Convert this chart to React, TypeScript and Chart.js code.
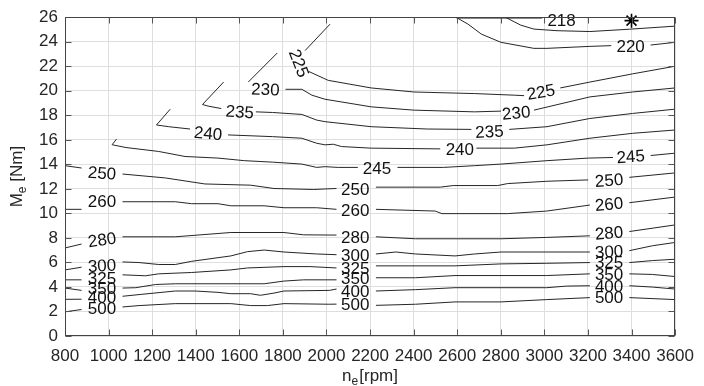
import React, { useEffect, useRef } from 'react';
import { Chart, registerables } from 'chart.js';

Chart.register(...registerables);

// Axis ticks
const xTickValues = [800, 1000, 1200, 1400, 1600, 1800, 2000, 2200, 2400, 2600, 2800, 3000, 3200, 3400, 3600];
const yTickValues = [0, 2, 4, 6, 8, 10, 12, 14, 16, 18, 20, 22, 24, 26];

// Contour lines: segments of [n_e (rpm), M_e (Nm)], gaps where labels sit
const c500 = [
  [[800, 1.97], [876, 2.16]],
  [[1064, 2.37], [1140, 2.48], [1306, 2.64], [1561, 2.64], [1652, 2.48], [1729, 2.48], [1805, 2.64], [2014, 2.59], [2046, 2.6]],
  [[2227, 2.5], [2409, 2.59], [2590, 2.78], [2801, 2.78], [3011, 2.97], [3209, 3.13]],
  [[3390, 3.13], [3600, 2.97]],
];
const c400 = [
  [[800, 2.99], [876, 3.0]],
  [[1064, 3.24], [1153, 3.4], [1306, 3.67], [1397, 3.67], [1502, 3.56], [1561, 3.45], [1652, 3.45], [1697, 3.32], [1759, 3.5], [1805, 3.67], [2014, 3.72], [2046, 3.83]],
  [[2227, 3.67], [2409, 3.78], [2590, 3.94], [3011, 3.94], [3102, 4.07], [3209, 4.1]],
  [[3390, 4.1], [3496, 3.99], [3600, 3.83]],
];
const c350 = [
  [[800, 3.91], [876, 3.72]],
  [[1064, 3.91], [1125, 3.94], [1215, 4.2], [1306, 4.26], [1714, 4.26], [1805, 4.48], [1895, 4.58], [2046, 4.58]],
  [[2227, 4.75], [2409, 4.75], [2590, 4.93], [3011, 4.93], [3209, 5.07]],
  [[3390, 5.07], [3496, 5.02], [3600, 4.85]],
];
const c325 = [
  [[800, 4.58], [876, 4.58]],
  [[1064, 4.99], [1170, 4.91], [1230, 5.07], [1381, 5.18], [1561, 5.39], [1638, 5.55], [1805, 5.66], [1924, 5.66], [2046, 5.55]],
  [[2227, 5.72], [2590, 5.72], [2801, 5.88], [3011, 5.93], [3209, 5.99]],
  [[3390, 5.99], [3496, 6.15], [3600, 6.26]],
];
const c300 = [
  [[800, 5.39], [876, 5.61]],
  [[1064, 6.04], [1140, 5.99], [1230, 5.83], [1306, 5.83], [1381, 6.09], [1561, 6.53], [1638, 6.88], [1714, 7.01], [1805, 6.85], [1955, 6.69], [2046, 6.63]],
  [[2227, 6.69], [2318, 6.85], [2409, 6.69], [2590, 6.53], [2680, 6.69], [2801, 6.85], [3209, 6.85]],
  [[3390, 6.96], [3496, 7.36], [3600, 7.63]],
];
const c280 = [
  [[800, 7.18], [876, 7.5]],
  [[1064, 8.09], [1306, 8.09], [1561, 8.44], [1805, 8.44], [1895, 8.25], [2046, 8.23]],
  [[2227, 8.09], [2409, 7.93], [2801, 7.93], [3011, 8.04], [3209, 8.17]],
  [[3390, 8.52], [3600, 9.06]],
];
const c260 = [
  [[800, 10.33], [876, 10.33]],
  [[1064, 10.95], [1306, 10.95], [1381, 10.79], [1502, 10.79], [1561, 10.62], [1714, 10.62], [1805, 10.46], [1955, 10.46], [2046, 10.33]],
  [[2227, 10.33], [2499, 10.19], [2530, 9.98], [2831, 9.98], [3011, 10.19], [3209, 10.68]],
  [[3390, 10.87], [3600, 11.33]],
];
const c250 = [
  [[800, 13.89], [876, 13.7]],
  [[1064, 13.21], [1261, 12.89], [1442, 12.4], [1652, 12.3], [1759, 12.03], [1940, 11.95], [2046, 12.03]],
  [[2227, 12.14], [2522, 12.14], [2582, 12.27], [2786, 12.27], [2831, 12.43], [3012, 12.62], [3201, 12.73]],
  [[3390, 12.94], [3600, 13.3]],
];
const c245 = [
  [[1037, 16.07], [1016, 15.6], [1080, 15.37], [1230, 15.05], [1351, 14.64], [1502, 14.51], [1623, 14.3], [1752, 14.18], [1887, 14.02], [1955, 13.75], [1993, 13.81], [2054, 13.75], [2144, 13.75]],
  [[2326, 13.75], [2537, 13.75], [2680, 13.89], [2801, 14.02], [3012, 14.3], [3201, 14.51], [3315, 14.56]],
  [[3488, 14.72], [3600, 14.91]],
];
const c240 = [
  [[1283, 18.5], [1220, 17.21], [1276, 17.07], [1374, 16.88]],
  [[1548, 16.4], [1752, 16.26], [1887, 16.13], [1955, 15.72], [1993, 15.59], [2031, 15.64], [2069, 15.45], [2205, 15.32], [2522, 15.26]],
  [[2688, 15.32], [2862, 15.32], [3012, 15.59], [3209, 16.13], [3405, 16.53], [3600, 16.8]],
];
const c235 = [
  [[1528, 20.71], [1431, 18.88], [1457, 18.75], [1517, 18.55]],
  [[1676, 18.28], [1752, 18.23], [1887, 18.07], [1955, 17.61], [1993, 17.48], [2205, 17.07], [2462, 16.88], [2665, 16.85]],
  [[2839, 16.85], [3012, 17.07], [3209, 17.74], [3405, 18.15], [3600, 18.5]],
];
const c230 = [
  [[1774, 23.08], [1641, 20.71]],
  [[1812, 20.12], [1887, 20.12], [1933, 19.64], [1993, 19.31], [2205, 18.69], [2401, 18.42], [2680, 18.28], [2801, 18.34]],
  [[2952, 18.42], [3209, 19.5], [3405, 19.9], [3600, 20.23]],
];
const c225 = [
  [[2016, 25.43], [1902, 23.28]],
  [[1918, 21.58], [2008, 20.85], [2205, 20.23], [2401, 19.9], [2680, 19.77], [2862, 19.64], [2907, 19.6]],
  [[3073, 20.23], [3209, 20.71], [3405, 21.38], [3600, 22.0]],
];
const c220 = [
  [[2597, 25.97], [2650, 25.43], [2711, 24.62], [2801, 23.95], [2952, 23.46], [3012, 23.46], [3209, 23.62], [3307, 23.68]],
  [[3488, 23.73], [3600, 23.95]],
];
const c218 = [
  [[2597, 25.93], [2990, 25.93]],
  [[2824, 25.97], [2892, 25.35], [2952, 25.03], [3058, 24.9], [3209, 24.83], [3390, 25.02], [3600, 25.27]],
];

// Inline contour labels: text, n_e, M_e, rotation (deg, clockwise)
const labelText = ['500', '400', '350', '325', '300', '280', '260', '250',
  '500', '400', '350', '325', '300', '280', '260', '250',
  '500', '400', '350', '325', '300', '280', '260', '250',
  '245', '245', '240', '240', '235', '235', '230', '230', '225', '225', '220', '218'];
const labelN = [970, 970, 970, 970, 970, 970, 970, 970,
  2132, 2132, 2132, 2132, 2132, 2132, 2132, 2132,
  3297, 3297, 3297, 3297, 3297, 3297, 3297, 3297,
  2232, 3396, 1457, 2612, 1602, 2748, 1720, 2871, 1874, 2984, 3396, 3079];
const labelM = [2.26, 3.15, 3.88, 4.69, 5.74, 7.85, 11.0, 13.29,
  2.56, 3.67, 4.67, 5.56, 6.61, 8.04, 10.22, 12.0,
  3.18, 4.07, 5.07, 6.01, 6.88, 8.41, 10.76, 12.7,
  13.67, 14.64, 16.53, 15.21, 18.28, 16.67, 20.12, 18.2, 22.25, 19.9, 23.62, 25.73];
const labelAngle = [0, 0, 0, 0, -3, -8, 0, 4,
  0, 0, 0, 0, 0, 0, 0, 0,
  0, 0, 0, 0, -3, -5, -5, -4,
  0, -4, 5, 0, 4, -3, 2, -5, 69, -10, 0, 0];

// Optimum point
const optimumN = [3400];
const optimumM = [25.72];

const contours = [c500, c400, c350, c325, c300, c280, c260, c250, c245, c240, c235, c230, c225, c220, c218];

const FONT = '"Liberation Sans", Arial, Helvetica, sans-serif';

function toData(segs: number[][][]) {
  const out: { x: number; y: number | null }[] = [];
  segs.forEach((s, i) => {
    if (i > 0) out.push({ x: s[0][0], y: null });
    s.forEach((p) => out.push({ x: p[0], y: p[1] }));
  });
  return out;
}

const labelPlugin = {
  id: 'contourLabels',
  afterDatasetsDraw(chart: any) {
    const { ctx, scales } = chart;
    const xs = scales.x;
    const ys = scales.y;
    ctx.save();
    ctx.font = `17px ${FONT}`;
    ctx.fillStyle = '#111111';
    ctx.textAlign = 'center';
    ctx.textBaseline = 'middle';
    labelText.forEach((t, i) => {
      const px = xs.getPixelForValue(labelN[i]);
      const py = ys.getPixelForValue(labelM[i]);
      ctx.save();
      ctx.translate(px, py);
      ctx.rotate((labelAngle[i] * Math.PI) / 180);
      ctx.fillText(t, 0, 1);
      ctx.restore();
    });
    ctx.restore();
  },
};

const framePlugin = {
  id: 'frame',
  afterDatasetsDraw(chart: any) {
    const { ctx, chartArea, scales } = chart;
    const { left, right, top, bottom } = chartArea;
    const xs = scales.x;
    const ys = scales.y;
    const L = Math.round(left) + 0.5;
    const R = Math.round(right) - 0.5;
    const T = Math.round(top) + 0.5;
    const B = Math.round(bottom) - 0.5;
    ctx.save();
    ctx.strokeStyle = '#555555';
    ctx.lineWidth = 1;
    ctx.beginPath();
    xTickValues.forEach((v) => {
      const px = Math.round(xs.getPixelForValue(v)) + 0.5;
      ctx.moveTo(px, B);
      ctx.lineTo(px, B - 6);
      ctx.moveTo(px, T);
      ctx.lineTo(px, T + 6);
    });
    yTickValues.forEach((v) => {
      const py = Math.round(ys.getPixelForValue(v)) + 0.5;
      ctx.moveTo(L, py);
      ctx.lineTo(L + 6, py);
      ctx.moveTo(R, py);
      ctx.lineTo(R - 6, py);
    });
    ctx.stroke();
    ctx.strokeStyle = '#444444';
    ctx.strokeRect(L, T, R - L, B - T);
    ctx.restore();
  },
  afterDraw(chart: any) {
    const { ctx, chartArea } = chart;
    const { left, right, top, bottom } = chartArea;
    ctx.save();
    ctx.fillStyle = '#262626';
    ctx.textBaseline = 'alphabetic';
    ctx.textAlign = 'left';
    // x title: n_e[rpm]
    const big = `17px ${FONT}`;
    const small = `12px ${FONT}`;
    ctx.font = big;
    const wN = ctx.measureText('n').width;
    const wR = ctx.measureText('[rpm]').width;
    ctx.font = small;
    const wE = ctx.measureText('e').width;
    const total = wN + wE + 1 + wR;
    const x0 = (left + right) / 2 - total / 2;
    const yb = 381;
    ctx.font = big;
    ctx.fillText('n', x0, yb);
    ctx.font = small;
    ctx.fillText('e', x0 + wN, yb + 4);
    ctx.font = big;
    ctx.fillText('[rpm]', x0 + wN + wE + 1, yb);
    // y title: M_e [Nm]
    ctx.font = big;
    const wM = ctx.measureText('M').width;
    const wNm = ctx.measureText(' [Nm]').width;
    ctx.font = small;
    const wE2 = ctx.measureText('e').width;
    const totY = wM + wE2 + wNm;
    ctx.translate(22, (top + bottom) / 2);
    ctx.rotate(-Math.PI / 2);
    const s0 = -totY / 2;
    ctx.font = big;
    ctx.fillText('M', s0, 0);
    ctx.font = small;
    ctx.fillText('e', s0 + wM, 4);
    ctx.font = big;
    ctx.fillText(' [Nm]', s0 + wM + wE2, 0);
    ctx.restore();
  },
};

export default function App() {
  const ref = useRef<HTMLCanvasElement>(null);
  useEffect(() => {
    if (!ref.current) return;
    const datasets: any[] = contours.map((c) => ({
      data: toData(c),
      borderColor: '#262626',
      borderWidth: 1,
      pointRadius: 0,
      pointHoverRadius: 0,
      tension: 0,
      spanGaps: false,
      fill: false,
    }));
    datasets.push({
      data: optimumN.map((n, i) => ({ x: n, y: optimumM[i] })),
      showLine: false,
      pointStyle: 'star',
      pointRadius: 7,
      borderColor: '#000000',
      borderWidth: 1.6,
      backgroundColor: '#000000',
      clip: false,
    });
    const chart = new Chart(ref.current, {
      type: 'line',
      data: { datasets },
      options: {
        animation: false,
        responsive: false,
        devicePixelRatio: 1,
        events: [],
        layout: { padding: { top: 14.7, right: 21, left: 0, bottom: 0 } },
        plugins: { legend: { display: false }, tooltip: { enabled: false } },
        scales: {
          x: {
            type: 'linear',
            min: 800,
            max: 3600,
            afterFit: (s: any) => { s.height = 50; },
            afterBuildTicks: (s: any) => { s.ticks = xTickValues.map((v) => ({ value: v })); },
            ticks: {
              callback: (v: any) => String(v),
              font: { family: FONT, size: 17 },
              color: '#262626',
              padding: 10,
              maxRotation: 0,
              autoSkip: false,
            },
            grid: { color: '#dedede', lineWidth: 1, drawTicks: false },
            border: { display: false },
          },
          y: {
            type: 'linear',
            min: 0,
            max: 26,
            afterFit: (s: any) => { s.width = 65; },
            afterBuildTicks: (s: any) => { s.ticks = yTickValues.map((v) => ({ value: v })); },
            ticks: {
              callback: (v: any) => String(v),
              font: { family: FONT, size: 17 },
              color: '#262626',
              padding: 7,
              autoSkip: false,
            },
            grid: { color: '#dedede', lineWidth: 1, drawTicks: false },
            border: { display: false },
          },
        },
      },
      plugins: [labelPlugin, framePlugin],
    } as any);
    return () => chart.destroy();
  }, []);
  return (
    <div style={{ position: 'fixed', left: 0, top: 0, width: 704, height: 386, background: '#ffffff' }}>
      <canvas ref={ref} width={704} height={386} style={{ display: 'block', width: 704, height: 386 }} />
    </div>
  );
}
